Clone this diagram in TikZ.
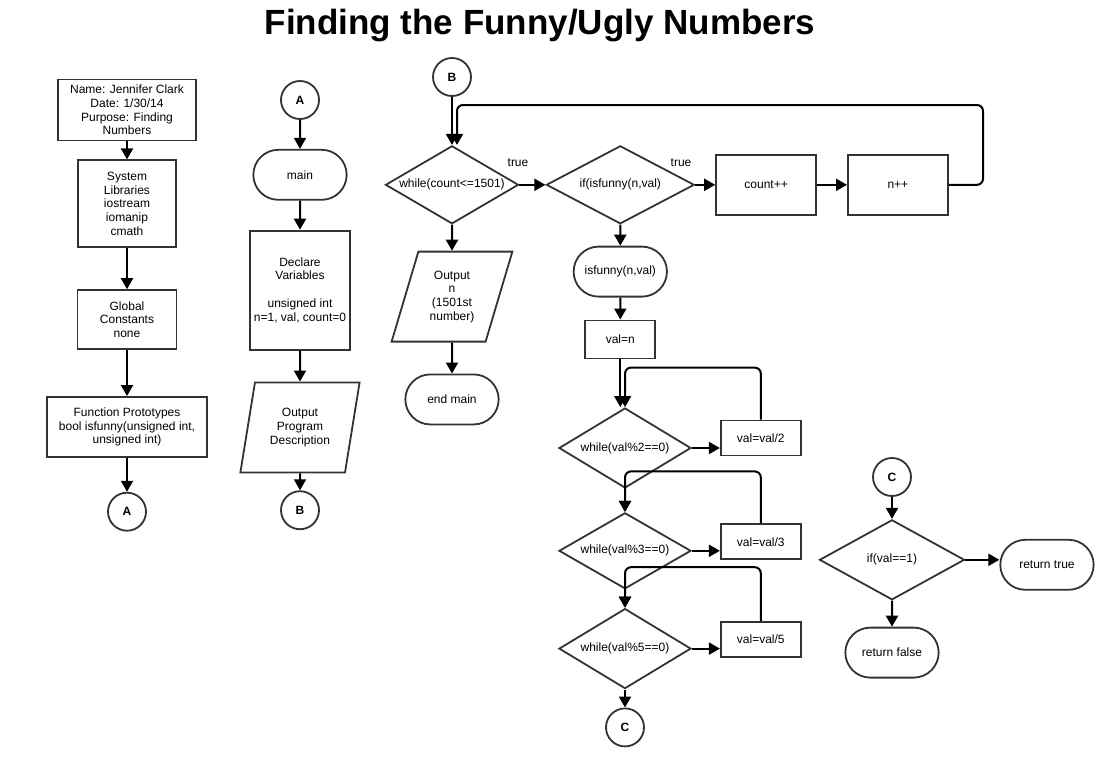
\documentclass[tikz,border=0pt]{standalone}
\usepackage{fontspec}
\setmainfont{Liberation Sans}
\usepackage{tikz}
\usetikzlibrary{positioning, shapes.geometric, shapes.misc, arrows.meta}
\definecolor{ink}{HTML}{333333}
\tikzset{
  box/.style={draw=ink, line width=1.8pt, rectangle, align=center, inner sep=2pt},
  term/.style={draw=ink, line width=1.8pt, rounded rectangle, minimum width=100pt, minimum height=50pt, align=center},
  io/.style={draw=ink, line width=1.8pt, trapezium, trapezium stretches=true, trapezium left angle=76, trapezium right angle=104, minimum height=90pt, align=center, inner sep=1pt},
  decision/.style={draw=ink, line width=1.8pt, diamond, aspect=1.7, minimum height=78pt, inner sep=0pt, align=center},
  conn/.style={draw=ink, line width=1.8pt, circle, minimum size=38pt, inner sep=0pt, font=\fontsize{12}{14}\selectfont\bfseries},
  flow/.style={-{Triangle[length=11pt,width=12pt]}, line width=2pt},
}

\begin{document}
\begin{tikzpicture}[x=1pt, y=-1pt, font=\fontsize{12}{13.7}\selectfont]
\useasboundingbox (0,0) rectangle (1119,769);
\node (title) at (540,26) {\fontsize{35}{40}\selectfont\bfseries Finding the Funny/Ugly Numbers};

\node (info) [box, minimum width=138pt, minimum height=61pt] at (127,110) {Name: Jennifer Clark\\Date: 1/30/14\\Purpose: Finding\\Numbers};
\node (syslib) [box, minimum width=98pt, minimum height=87pt, below=18pt of info] {System\\Libraries\\iostream\\iomanip\\cmath};
\node (global) [box, minimum width=99pt, minimum height=59pt, below=41pt of syslib] {Global\\Constants\\none};
\node (proto) [box, minimum width=160pt, minimum height=60pt, below=46pt of global] {Function Prototypes\\bool isfunny(unsigned int,\\unsigned int)};
\node (conna) [conn, below=34pt of proto] {A};

\node (conna2) [conn] at (300,100) {A};
\node (main) [term, below=29pt of conna2] {main};
\node (declare) [box, minimum width=100pt, minimum height=119pt, below=29pt of main] {Declare\\Variables\\[13.7pt]unsigned int\\n=1, val, count=0};
\node (outprog) [io, minimum width=120pt, below=31pt of declare] {Output\\Program\\Description};
\node (connb) [conn, below=17pt of outprog] {B};

\node (connb2) [conn] at (452,77) {B};
\node (while1) [decision, minimum width=133pt, below=48pt of connb2] {while(count<=1501)};
\node (outn) [io, trapezium left angle=71, trapezium right angle=109, minimum width=121pt, below=26pt of while1] {Output\\n\\(1501st\\number)};
\node (endmain) [term, below=31pt of outn] {end main};
\node (ifn) [decision, aspect=1.9, minimum width=148pt, right=26pt of while1] {if(isfunny(n,val)};
\node (countp) [box, minimum width=100pt, minimum height=60pt, right=20pt of ifn] {count++};
\node (nplus) [box, minimum width=100pt, minimum height=60pt, right=30pt of countp] {n++};
\node (true1) at (518,163) {true};
\node (true2) at (681,163) {true};
\node (isfunny) [term, below=21pt of ifn] {isfunny(n,val)};
\node (valn) [box, minimum width=70pt, minimum height=38pt, below=22pt of isfunny] {val=n};

\node (while2) [decision, aspect=1.65, minimum width=132pt, minimum height=80pt] at (625,448) {while(val\%2==0)};
\node (div2) [box, minimum width=80pt, minimum height=35pt, right=28pt of while2, yshift=10pt] {val=val/2};
\node (while3) [decision, aspect=1.65, minimum width=132pt, minimum height=76pt, below=23pt of while2] {while(val\%3==0)};
\node (div3) [box, minimum width=80pt, minimum height=35pt, right=28pt of while3, yshift=9pt] {val=val/3};
\node (while4) [decision, aspect=1.65, minimum width=132pt, minimum height=80pt, below=18pt of while3] {while(val\%5==0)};
\node (div5) [box, minimum width=80pt, minimum height=35pt, right=28pt of while4, yshift=9pt] {val=val/5};
\node (connc) [conn, below=18pt of while4] {C};

\node (connc2) [conn] at (892,477) {C};
\node (ifv) [decision, aspect=1.8, minimum width=145pt, minimum height=80pt, below=22pt of connc2] {if(val==1)};
\node (rettrue) [term, right=34pt of ifv, yshift=-5pt] {return true};
\node (retfalse) [term, below=26pt of ifv] {return false};

\coordinate (loopr) at (983,105);
\coordinate (loopl) at (457,105);

\draw[flow] (info) -- (syslib);
\draw[flow] (syslib) -- (global);
\draw[flow] (global) -- (proto);
\draw[flow] (proto) -- (conna);

\draw[flow] (conna2) -- (main);
\draw[flow] (main) -- (declare);
\draw[flow] (declare) -- (outprog);
\draw[flow] (outprog) -- (connb);

\draw[flow] (connb2) -- (while1);
\draw[flow] (while1) -- (outn);
\draw[flow] (outn) -- (endmain);
\draw[flow] (while1) -- (ifn);
\draw[flow] (ifn) -- (countp);
\draw[flow] (countp) -- (nplus);
\draw[flow, rounded corners=6pt] (nplus.east) -| (loopr) -- (loopl) -- (loopl |- while1.north);
\draw[flow] (ifn) -- (isfunny);
\draw[flow] (isfunny) -- (valn);
\draw[flow] (valn.south) -- (valn.south |- while2.north);

\draw[flow] (while2.east) -- (while2.east -| div2.west);
\draw[flow, rounded corners=6pt] (div2.north) -- ++(0,-52) -| (while2.north);
\draw[flow] (while2) -- (while3);
\draw[flow] (while3.east) -- (while3.east -| div3.west);
\draw[flow, rounded corners=6pt] (div3.north) -- ++(0,-52) -| (while3.north);
\draw[flow] (while3) -- (while4);
\draw[flow] (while4.east) -- (while4.east -| div5.west);
\draw[flow, rounded corners=6pt] (div5.north) -- ++(0,-54) -| (while4.north);
\draw[flow] (while4) -- (connc);

\draw[flow] (connc2) -- (ifv);
\draw[flow] (ifv.east) -- (ifv.east -| rettrue.west);
\draw[flow] (ifv) -- (retfalse);
\end{tikzpicture}
\end{document}
